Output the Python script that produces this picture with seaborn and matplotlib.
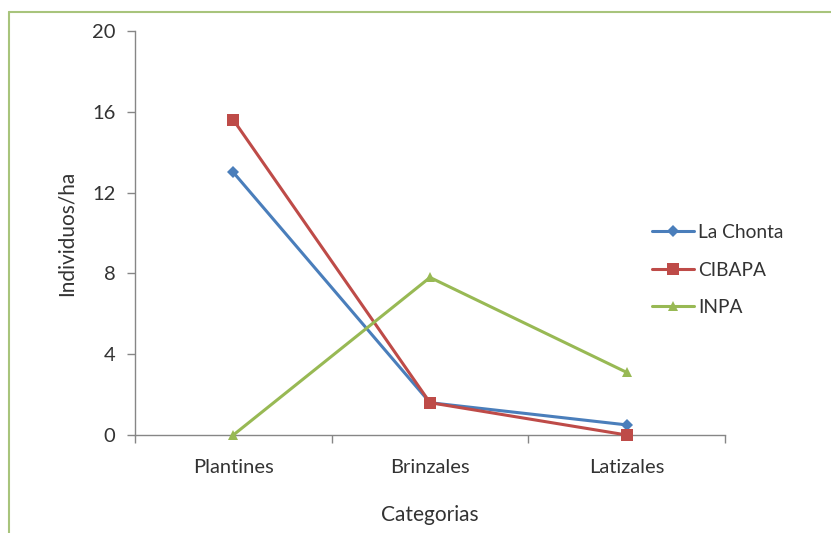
import matplotlib
matplotlib.use("Agg")
import matplotlib.pyplot as plt
import matplotlib.lines as mlines
import seaborn as sns
import pandas as pd

categories = ["Plantines", "Brinzales", "Latizales"]
la_chonta = [13.0, 1.6, 0.5]
cibapa = [15.6, 1.6, 0.0]
inpa = [0.0, 7.8, 3.1]
series_names = ["La Chonta", "CIBAPA", "INPA"]
y_ticks = [0, 4, 8, 12, 16, 20]

rows = []
for name, vals in zip(series_names, [la_chonta, cibapa, inpa]):
    for i, (c, v) in enumerate(zip(categories, vals)):
        rows.append({"pos": i, "Categoria": c, "Serie": name, "Valor": v})
df = pd.DataFrame(rows)

sns.set_theme(style="white")
plt.rcParams["font.family"] = ["Lato", "DejaVu Sans"]

fig = plt.figure(figsize=(8.31, 5.33), dpi=100)
ax = fig.add_axes([135/831, 1-435/533, (725-135)/831, (435-31)/533])

palette = {"La Chonta": "#4a7ebb", "CIBAPA": "#be4b48", "INPA": "#98b954"}
markers = {"La Chonta": "D", "CIBAPA": "s", "INPA": "^"}
sizes = {"La Chonta": 6, "CIBAPA": 8, "INPA": 7}

for name in series_names:
    sub = df[df["Serie"] == name]
    sns.lineplot(data=sub, x="pos", y="Valor", color=palette[name], marker=markers[name],
                 markersize=sizes[name], markeredgewidth=0, linewidth=2.2, ax=ax, label=name,
                 legend=False, clip_on=False)

ax.set_xlim(-0.5, 2.5)
ax.set_ylim(0, 20)
ax.set_yticks(y_ticks)
ax.set_xticks(range(len(categories)))
ax.set_xticklabels(categories)
ax.set_xticks([-0.5, 0.5, 1.5, 2.5], minor=True)
ax.tick_params(axis="x", which="major", length=0, pad=17, labelsize=14.5, labelcolor="#333333")
ax.tick_params(axis="x", which="minor", length=6, width=1, color="#868686", direction="out", bottom=True)
ax.tick_params(axis="y", which="major", length=6, width=1, color="#868686", direction="out", left=True,
               labelsize=14.5, labelcolor="#333333", pad=8)
for s in ["top", "right"]:
    ax.spines[s].set_visible(False)
for s in ["left", "bottom"]:
    ax.spines[s].set_color("#868686")
    ax.spines[s].set_linewidth(1)
ax.grid(False)
ax.set_xlabel("Categorias", fontsize=15, color="#333333", labelpad=21)
ax.set_ylabel("Individuos/ha", fontsize=15, color="#333333", labelpad=11)
for sp in ax.spines.values():
    sp.set_zorder(0.5)

handles = [mlines.Line2D([], [], color=palette[n], marker=markers[n], markersize=sizes[n],
                         markeredgewidth=0, linewidth=2.2) for n in series_names]
fig.legend(handles, series_names, loc="center left", bbox_to_anchor=(635/831, 1-270/533),
           frameon=False, fontsize=13.8, labelspacing=1.08, handlelength=2.2, handletextpad=0.2,
           labelcolor="#333333")

border = "#a8c47c"
fig.add_artist(mlines.Line2D([9/831, 1.0], [1-11.5/533, 1-11.5/533], color=border, linewidth=1.5,
                             transform=fig.transFigure))
fig.add_artist(mlines.Line2D([9/831, 9/831], [0, 1-11.5/533], color=border, linewidth=1.5,
                             transform=fig.transFigure))

fig.savefig("out.png", dpi=100)
